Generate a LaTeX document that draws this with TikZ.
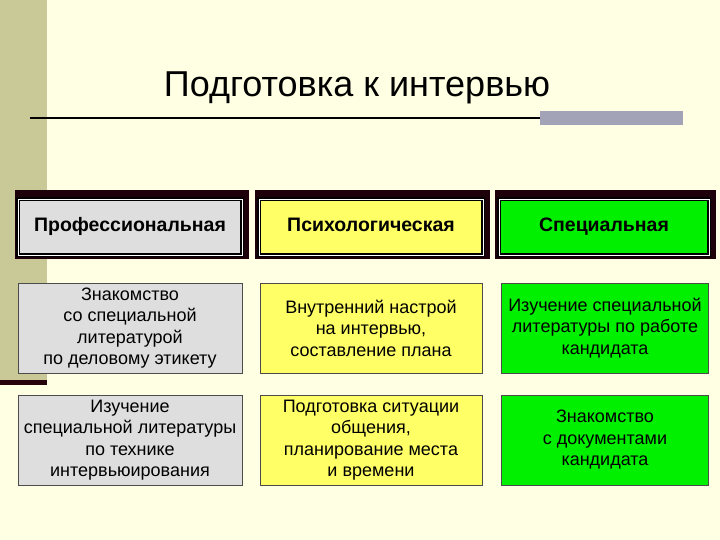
\documentclass[tikz,border=0pt]{standalone}
\usepackage{fontspec}
\setmainfont{Liberation Sans}
\begin{document}
\begin{tikzpicture}[x=1pt,y=-1pt,
  hdr/.style={draw=black,line width=1.2pt,minimum height=56pt,inner sep=0pt,text height=14pt,text depth=4pt,font=\fontsize{19.5}{22}\selectfont\bfseries,double=white,double distance=0.8pt},
  cell/.style={draw=black!70,line width=0.6pt,minimum height=90pt,inner sep=0pt,align=center,font=\fontsize{18}{21.5}\selectfont},
  shd/.style={fill=black!85!purple}]
\definecolor{bg}{HTML}{FFFFE3}
\definecolor{olive}{HTML}{C9C998}
\definecolor{gr}{HTML}{DEDEDE}
\definecolor{ye}{HTML}{FFFF66}
\definecolor{gn}{HTML}{00F000}
\definecolor{bar}{HTML}{A3A3B8}
\useasboundingbox (0,0) rectangle (720,540);
\fill[bg] (0,0) rectangle (720,540);
\fill[olive] (0,0) rectangle (47,380);
\fill[black!80!purple] (0,380) rectangle (47,385);
\node (t) at (357,88) {\fontsize{36}{40}\selectfont Подготовка к интервью};
\fill[bar] (540,111) rectangle (683,125);
\draw[line width=1.2pt] (30,118) -- (540,118);
% header shadows
\foreach \a/\b in {18/246,258/487,498/713}{
  \fill[shd] (\a-3,190) rectangle (\b+3,259);
}
\node[hdr,fill=gr,minimum width=224pt] (h1) at (130,227) {Профессиональная};
\node[hdr,fill=ye,minimum width=224pt] (h2) at (371,227) {Психологическая};
\node[hdr,fill=gn,minimum width=210pt] (h3) at (604,227) {Специальная};
\node[cell,fill=gr,minimum width=224pt] (a1) at (130,328) {Знакомство\\со специальной\\литературой\\по деловому этикету};
\node[cell,fill=ye,minimum width=222pt] (a2) at (371,328) {Внутренний настрой\\на интервью,\\составление плана};
\node[cell,fill=gn,minimum width=207pt] (a3) at (605,328) {Изучение специальной\\литературы по работе\\кандидата};
\node[cell,fill=gr,minimum width=224pt] (b1) at (130,440) {Изучение\\специальной литературы\\по технике\\интервьюирования};
\node[cell,fill=ye,minimum width=222pt] (b2) at (371,440) {Подготовка ситуации\\общения,\\планирование места\\и времени};
\node[cell,fill=gn,minimum width=207pt] (b3) at (605,440) {Знакомство\\с документами\\кандидата};
\end{tikzpicture}
\end{document}
